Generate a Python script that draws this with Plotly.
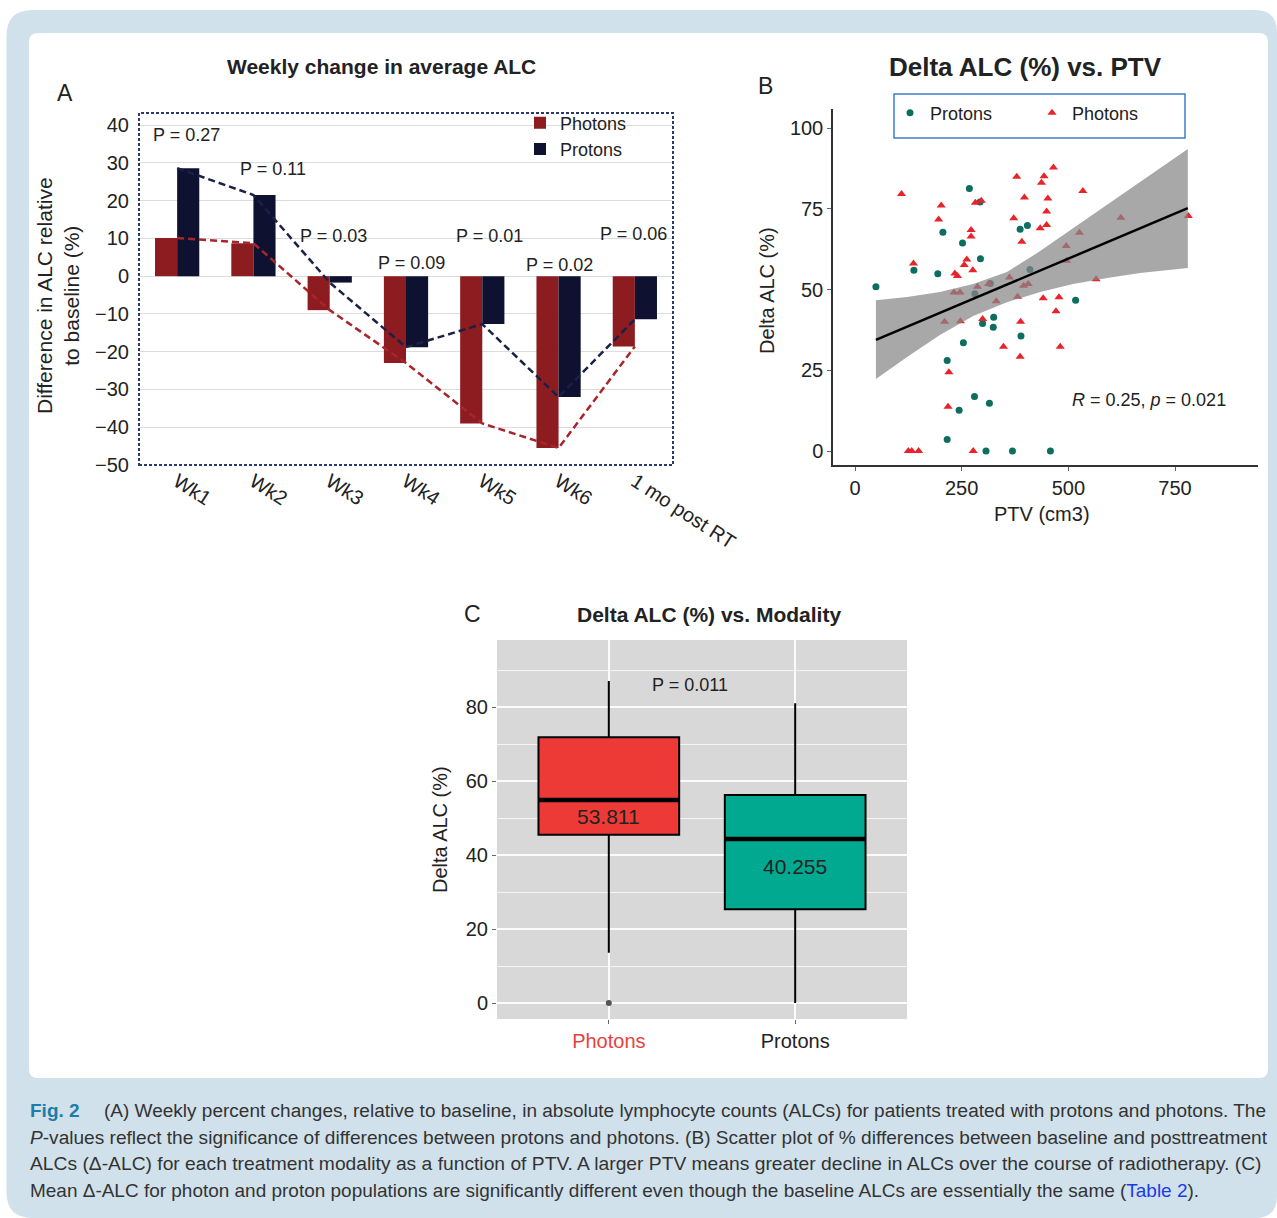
import re
import plotly.graph_objects as go

# page body margin is removed (post_script), so figure pixels = reference pixels
FW, FH = 1277, 1218
def px(x): return x / FW
def py(y): return 1 - y / FH

FONT = "Liberation Sans, Arial, sans-serif"
TXT = "#222222"

# ---------------- Panel A data ----------------
weeks = ["Wk1", "Wk2", "Wk3", "Wk4", "Wk5", "Wk6", "1 mo post RT"]
photons_change = [10.1, 8.7, -9.0, -23.0, -39.0, -45.5, -18.6]
protons_change = [28.6, 21.5, -1.7, -18.8, -12.7, -32.0, -11.4]
p_values_a = ["P = 0.27", "P = 0.11", "P = 0.03", "P = 0.09", "P = 0.01", "P = 0.02", "P = 0.06"]

# ---------------- Panel B data ----------------
proton_ptv = [49, 268, 293, 206, 252, 387, 404, 294, 138, 194, 410, 317, 281, 517,
              325, 299, 324, 389, 254, 216, 280, 315, 244, 216, 307, 369, 458]
proton_delta = [50.9, 81.3, 77.1, 67.7, 64.4, 68.7, 69.8, 59.5, 56.0, 54.9, 56.2, 51.9, 48.7, 46.7,
                41.4, 39.5, 38.3, 35.6, 33.5, 28.0, 16.9, 14.8, 12.6, 3.6, 0, 0, 0]
photon_ptv = [109, 202, 196, 379, 443, 465, 437, 397, 452, 534, 282, 296, 449, 372, 449, 434,
              272, 272, 391, 526, 623, 781, 495, 496, 137, 262, 256, 276, 234, 240, 565, 362,
              287, 313, 395, 406, 232, 246, 331, 381, 441, 478, 471, 210, 247, 299, 388, 348,
              481, 387, 220, 218, 125, 133, 149, 277]
photon_delta = [79.6, 76.0, 71.7, 84.9, 85.1, 87.8, 83.1, 78.5, 78.2, 80.5, 76.9, 77.5, 74.2, 72.1, 70.0, 69.0,
                68.4, 66.4, 64.8, 67.6, 72.2, 72.8, 63.5, 58.9, 58.1, 59.3, 57.6, 56.0, 55.0, 54.2, 53.2, 53.7,
                50.9, 51.7, 51.2, 51.7, 49.1, 49.1, 46.4, 47.8, 47.3, 47.6, 43.3, 40.0, 40.2, 40.9, 40.0, 32.3,
                32.3, 29.2, 24.4, 13.7, 0, 0, 0, 0]
fit_ptv = [49, 780]
fit_delta = [34.4, 75.2]
band_ptv = [49, 122, 199, 277, 356, 434, 511, 591, 668, 780]
band_upper = [46.7, 47.7, 49.2, 51.7, 55.4, 61.9, 69.0, 76.2, 83.3, 93.5]
band_lower = [22.3, 29.1, 35.9, 41.8, 46.1, 49.2, 51.7, 53.6, 55.1, 56.7]
stat_text_b = "<i>R</i> = 0.25, <i>p</i> = 0.021"

# ---------------- Panel C data ----------------
modalities = ["Photons", "Protons"]
box_q1 = [45.5, 25.4]
box_median = [54.9, 44.4]
box_q3 = [71.9, 56.3]
box_low = [13.6, 0.0]
box_high = [87.1, 81.1]
box_labels = ["53.811", "40.255"]
outlier_values = [0.0]
p_value_c = "P = 0.011"

# ---------------- Caption ----------------
caption = [
    "<b><span style='color:#1f7ca6'>Fig. 2</span></b>\u2003 (A) Weekly percent changes, relative to baseline, in absolute lymphocyte counts (ALCs) for patients treated with protons and photons. The",
    "<i>P</i>-values reflect the significance of differences between protons and photons. (B) Scatter plot of % differences between baseline and posttreatment",
    "ALCs (\u0394-ALC) for each treatment modality as a function of PTV. A larger PTV means greater decline in ALCs over the course of radiotherapy. (C)",
    "Mean \u0394-ALC for photon and proton populations are significantly different even though the baseline ALCs are essentially the same (<span style='color:#1a3ce6'>Table 2</span>).",
]

fig = go.Figure()

# ---- Panel A traces ----
fig.add_trace(go.Bar(x=weeks, y=photons_change, name="Photons", marker=dict(color="#8d1c21", line=dict(width=0)),
                     xaxis="x", yaxis="y", legend="legend"))
fig.add_trace(go.Bar(x=weeks, y=protons_change, name="Protons", marker=dict(color="#0e1230", line=dict(width=0)),
                     xaxis="x", yaxis="y", legend="legend"))
fig.add_trace(go.Scatter(x=weeks, y=photons_change, mode="lines", showlegend=False,
                         line=dict(color="#a8262b", width=2.5, dash="7px,4px"), xaxis="x", yaxis="y"))
fig.add_trace(go.Scatter(x=weeks, y=protons_change, mode="lines", showlegend=False,
                         line=dict(color="#1a2146", width=2.5, dash="7px,4px"), xaxis="x", yaxis="y"))

# ---- Panel B traces ----
fig.add_trace(go.Scatter(x=proton_ptv, y=proton_delta, mode="markers", name="Protons",
                         marker=dict(symbol="circle", size=7, color="#0b6e5f"),
                         xaxis="x2", yaxis="y2", legend="legend2"))
fig.add_trace(go.Scatter(x=photon_ptv, y=photon_delta, mode="markers", name="Photons",
                         marker=dict(symbol="triangle-up", size=8, color="#e8232a"),
                         xaxis="x2", yaxis="y2", legend="legend2"))
fig.add_trace(go.Scatter(x=band_ptv + band_ptv[::-1], y=band_upper + band_lower[::-1],
                         fill="toself", fillcolor="rgba(135,135,135,0.72)", line=dict(width=0),
                         mode="lines", showlegend=False, hoverinfo="skip", xaxis="x2", yaxis="y2"))
fig.add_trace(go.Scatter(x=fit_ptv, y=fit_delta, mode="lines", showlegend=False,
                         line=dict(color="black", width=2.5), xaxis="x2", yaxis="y2"))

# ---- Panel C traces ----
box_colors = ["#ee3a36", "#00a98f"]
BOX_W = 0.755
for i, m in enumerate(modalities):
    fig.add_trace(go.Box(x=[i], q1=[box_q1[i]], median=[box_median[i]], q3=[box_q3[i]],
                         lowerfence=[box_low[i]], upperfence=[box_high[i]], name=m,
                         fillcolor=box_colors[i], line=dict(color="black", width=2),
                         width=BOX_W, whiskerwidth=0, boxpoints=False, showlegend=False,
                         xaxis="x3", yaxis="y3"))
    fig.add_trace(go.Scatter(x=[i - BOX_W / 2, i + BOX_W / 2], y=[box_median[i], box_median[i]],
                             mode="lines", line=dict(color="black", width=4.5), showlegend=False,
                             xaxis="x3", yaxis="y3"))
fig.add_trace(go.Scatter(x=[0] * len(outlier_values), y=outlier_values, mode="markers",
                         marker=dict(color="#555555", size=6), showlegend=False, xaxis="x3", yaxis="y3"))


def rounded(x0, y0, x1, y1, r, rr=None):
    rr = r if rr is None else rr
    P = lambda x, y: f"{px(x):.5f},{py(y):.5f}"
    return (f"M{P(x0 + r, y0)} L{P(x1 - rr, y0)} Q{P(x1, y0)} {P(x1, y0 + rr)} "
            f"L{P(x1, y1 - rr)} Q{P(x1, y1)} {P(x1 - rr, y1)} L{P(x0 + r, y1)} "
            f"Q{P(x0, y1)} {P(x0, y1 - r)} L{P(x0, y0 + r)} Q{P(x0, y0)} {P(x0 + r, y0)} Z")

shapes = [
    dict(type="path", path=rounded(6.5, 10, 1277, 1218, 26, 22), xref="paper", yref="paper",
         fillcolor="#d0e1eb", line=dict(width=0), layer="below"),
    dict(type="path", path=rounded(29, 33, 1268, 1078, 9), xref="paper", yref="paper",
         fillcolor="white", line=dict(width=0), layer="below"),
    dict(type="rect", xref="x3 domain", yref="y3 domain", x0=0, x1=1, y0=0, y1=1,
         fillcolor="#d8d8d8", line=dict(width=0), layer="below"),
    dict(type="rect", xref="x domain", yref="y domain", x0=0, x1=1, y0=0, y1=1,
         line=dict(color="#2a3a6e", width=2, dash="3px,2px"), layer="above"),
    dict(type="rect", xref="paper", yref="paper", x0=px(894), x1=px(1185), y0=py(138), y1=py(94),
         line=dict(color="#3d7fc6", width=1.5), layer="above"),
]

ann = []
def text(x, y, s, size, bold=False, xanchor="center", yanchor="middle", angle=0, color=TXT, family=FONT):
    ann.append(dict(x=px(x), y=py(y), xref="paper", yref="paper", text=f"<b>{s}</b>" if bold else s,
                    showarrow=False, xanchor=xanchor, yanchor=yanchor, textangle=angle,
                    font=dict(size=size, color=color, family=family)))

# Panel A text
text(65, 93, "A", 23)
text(382, 67, "Weekly change in average ALC", 21, bold=True)
text(58, 295, "Difference in ALC relative<br>to baseline (%)", 21, angle=-90)
p_pos_a = [(9, 37.3), (20, 28.3), (4, 10.6), (5, 3.4), (7, 10.6), (1, 2.9), (-1, 11.1)]
for i, lab in enumerate(p_values_a):
    ann.append(dict(x=weeks[i], y=p_pos_a[i][1], xref="x", yref="y", xshift=p_pos_a[i][0], text=lab,
                    showarrow=False, font=dict(size=18, color=TXT, family=FONT)))

# Panel B text
text(765, 86, "B", 23)
text(1025, 67, "Delta ALC (%) vs. PTV", 26, bold=True)
text(767, 291, "Delta ALC (%)", 20, angle=-90)
text(1042, 514, "PTV (cm3)", 20)
ann.append(dict(x=689, y=15.8, xref="x2", yref="y2", text=stat_text_b, showarrow=False,
                font=dict(size=18, color=TXT, family=FONT)))

# Panel C text
text(472, 614, "C", 23)
text(709, 614, "Delta ALC (%) vs. Modality", 21, bold=True)
text(440, 830, "Delta ALC (%)", 20, angle=-90)
label_y_c = [50.4, 36.9]
for i, lab in enumerate(box_labels):
    ann.append(dict(x=i, y=label_y_c[i], xref="x3", yref="y3", text=lab, showarrow=False,
                    font=dict(size=21, color=TXT, family=FONT)))
ann.append(dict(x=0.435, y=86.1, xref="x3", yref="y3", text=p_value_c, showarrow=False,
                font=dict(size=18, color=TXT, family=FONT)))

# Caption: size each line so it spans the same width as in the (justified) reference
ARIAL = dict(zip(" !\"#$%&'()*+,-./0123456789:;<=>?@ABCDEFGHIJKLMNOPQRSTUVWXYZ[\\]^_`abcdefghijklmnopqrstuvwxyz{|}~",
                 [278, 278, 355, 556, 556, 889, 667, 191, 333, 333, 389, 584, 278, 333, 278, 278,
                  556, 556, 556, 556, 556, 556, 556, 556, 556, 556, 278, 278, 584, 584, 584, 556, 1015,
                  667, 667, 722, 722, 667, 611, 778, 722, 278, 500, 667, 556, 833, 722, 778, 667, 778,
                  722, 667, 611, 722, 667, 944, 667, 667, 611, 278, 278, 278, 469, 556, 333,
                  556, 556, 500, 556, 556, 278, 556, 556, 222, 222, 500, 222, 833, 556, 556, 556, 556,
                  333, 500, 278, 556, 500, 722, 500, 500, 500, 334, 260, 334, 584]))
ARIAL.update({"\u0394": 668, "\u2003": 1000})
def em_width(s):
    plain = re.sub(r"<[^>]+>", "", s)
    w = sum(ARIAL.get(c, 556) for c in plain) / 1000
    if plain.startswith("Fig. 2"):
        w += 0.12
    return w

cap_y = [1110, 1137, 1163, 1190]
cap_right = [1265, 1266, 1266, 1201]
for s, y, r in zip(caption, cap_y, cap_right):
    size = (r - 28) / em_width(s)
    text(28, y, s, round(size, 2), xanchor="left", color="#333333")

axis_common = dict(tickfont=dict(size=20, color=TXT, family=FONT), zeroline=False)
fig.update_layout(
    width=FW, height=FH, margin=dict(l=0, r=0, t=0, b=0, pad=0, autoexpand=False), autosize=False,
    paper_bgcolor="white", plot_bgcolor="rgba(0,0,0,0)",
    font=dict(family=FONT, color=TXT),
    barmode="group", bargap=0.42, bargroupgap=0,
    xaxis=dict(domain=[px(139), px(673)], anchor="y", type="category", range=[-0.5, 6.5],
               tickangle=33, showgrid=False, showline=False, ticks="", automargin=False,
               tickfont=dict(size=20, color=TXT, family=FONT)),
    yaxis=dict(domain=[py(465), py(113)], anchor="x", range=[-50, 43.2], tick0=0, dtick=10,
               showgrid=True, gridcolor="#dcdcdc", gridwidth=1, ticks="", ticklabelstandoff=9,
               automargin=False, **axis_common),
    xaxis2=dict(domain=[px(833), px(1258)], anchor="y2", range=[-51.6, 944.5], tickvals=[0, 250, 500, 750],
                showgrid=False, showline=True, linecolor="#333", linewidth=1.5, ticks="outside",
                ticklen=4, tickcolor="#666", automargin=False, **axis_common),
    yaxis2=dict(domain=[py(465), py(109)], anchor="x2", range=[-4.33, 105.9], tickvals=[0, 25, 50, 75, 100],
                showgrid=False, showline=True, linecolor="#333", linewidth=1.5, ticks="outside",
                ticklen=4, tickcolor="#666", automargin=False, **axis_common),
    xaxis3=dict(domain=[px(497), px(907)], anchor="y3", range=[-0.6, 1.6], tickvals=[0, 1],
                ticktext=["<span style='color:#e8413c'>Photons</span>", "Protons"],
                showgrid=True, gridcolor="rgba(255,255,255,0.9)", gridwidth=1.5, ticks="outside",
                ticklen=4, tickcolor="#666", showline=False, automargin=False, **axis_common),
    yaxis3=dict(domain=[py(1019), py(640)], anchor="x3", range=[-4.3, 98.2], tick0=0, dtick=20,
                showgrid=True, gridcolor="rgba(255,255,255,0.9)", gridwidth=1.5, ticks="outside",
                ticklen=4, tickcolor="#666", showline=False, automargin=False,
                minor=dict(dtick=10, showgrid=True, gridcolor="rgba(255,255,255,0.75)", gridwidth=0.8),
                **axis_common),
    legend=dict(x=px(520), y=py(136), xanchor="left", yanchor="middle", bgcolor="rgba(0,0,0,0)",
                font=dict(size=18, color=TXT, family=FONT), tracegroupgap=0),
    legend2=dict(orientation="h", x=px(890), y=py(113), xanchor="left", yanchor="middle",
                 bgcolor="rgba(0,0,0,0)", entrywidth=97, font=dict(size=18, color=TXT, family=FONT)),
    shapes=shapes, annotations=ann,
)

fig.write_html("out.html", config={"displayModeBar": False},
               post_script="document.body.style.margin='0px'; document.body.style.padding='0px';")
